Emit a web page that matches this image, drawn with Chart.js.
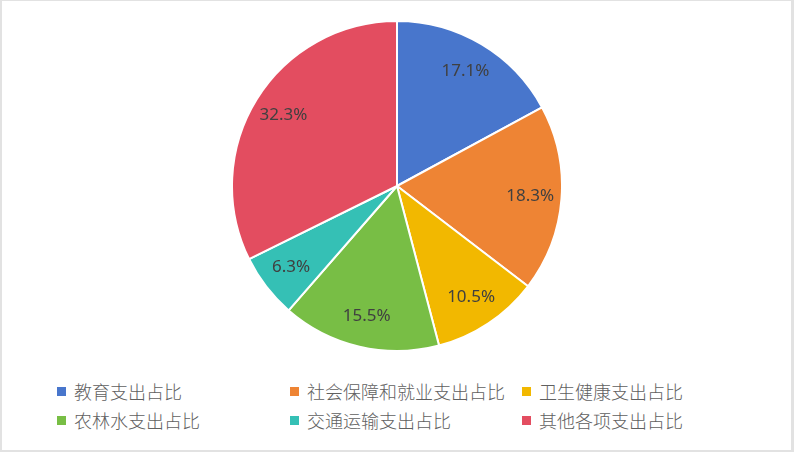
<!DOCTYPE html>
<html>
<head>
<meta charset="utf-8">
<script src="https://cdn.jsdelivr.net/npm/chart.js@4.4.0/dist/chart.umd.min.js"></script>
<style>
  html, body { margin: 0; padding: 0; background: #fff; }
  #frame {
    position: relative; width: 794px; height: 452px; box-sizing: border-box;
    border-style: solid; border-color: #e2e2e2;
    border-width: 1px 3px 2px 2px; background: #fff; overflow: hidden;
  }
  #pieBox { position: absolute; left: 229px; top: 19px; width: 332px; height: 332px; }
  #legend {
    position: absolute; left: 55px; top: 376px;
    display: grid; grid-template-columns: 233px 232px 232px; grid-auto-rows: 29px;
    font-family: "Noto Sans CJK SC", "Noto Sans", sans-serif; font-size: 18px; font-weight: 300; color: #606060;
  }
  .item { display: flex; align-items: center; white-space: nowrap; line-height: 29px; }
  .box { width: 9px; height: 9px; margin-right: 8px; flex: none; }
</style>
</head>
<body>
<div id="frame">
  <div id="pieBox"><canvas id="c"></canvas></div>
  <div id="legend"></div>
</div>
<script>
const categories = ["教育支出占比", "社会保障和就业支出占比", "卫生健康支出占比", "农林水支出占比", "交通运输支出占比", "其他各项支出占比"];
const shares = [17.1, 18.3, 10.5, 15.5, 6.3, 32.3];
const valueLabels = ["17.1%", "18.3%", "10.5%", "15.5%", "6.3%", "32.3%"];
const colors = ["#4876CC", "#EE8434", "#F2B800", "#78BE45", "#35C0B5", "#E34D60"];

const labelPlugin = {
  id: 'sliceLabels',
  afterDatasetsDraw(chart) {
    const ctx = chart.ctx;
    const meta = chart.getDatasetMeta(0);
    ctx.save();
    ctx.font = '17px "Noto Sans", "Open Sans", sans-serif';
    ctx.fillStyle = '#404040';
    ctx.textAlign = 'center';
    ctx.textBaseline = 'middle';
    meta.data.forEach((arc, i) => {
      const p = arc.getProps(['x', 'y', 'startAngle', 'endAngle', 'outerRadius'], true);
      const mid = (p.startAngle + p.endAngle) / 2;
      const r = p.outerRadius * 0.81;
      ctx.fillText(valueLabels[i], p.x + Math.cos(mid) * r, p.y + Math.sin(mid) * r);
    });
    ctx.restore();
  }
};

new Chart(document.getElementById('c'), {
  type: 'pie',
  data: {
    labels: categories,
    datasets: [{
      data: shares,
      backgroundColor: colors,
      borderColor: '#ffffff',
      borderWidth: 2
    }]
  },
  options: {
    responsive: true,
    maintainAspectRatio: false,
    animation: false,
    layout: { padding: 0 },
    plugins: { legend: { display: false }, tooltip: { enabled: false } }
  },
  plugins: [labelPlugin]
});

const legend = document.getElementById('legend');
categories.forEach((name, i) => {
  const item = document.createElement('div');
  item.className = 'item';
  const box = document.createElement('span');
  box.className = 'box';
  box.style.background = colors[i];
  const txt = document.createElement('span');
  txt.textContent = name;
  item.appendChild(box);
  item.appendChild(txt);
  legend.appendChild(item);
});
</script>
</body>
</html>
